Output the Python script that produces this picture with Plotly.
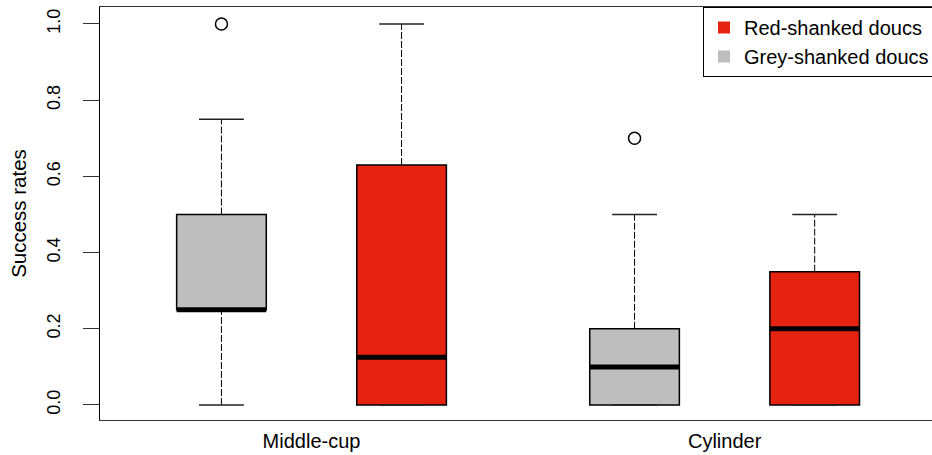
import plotly.graph_objects as go

# ---- data ----
categories = ["Middle-cup", "Cylinder"]
series_names = ["Grey-shanked doucs", "Red-shanked doucs"]

grey_low = [0.0, 0.0]
grey_q1 = [0.25, 0.0]
grey_median = [0.25, 0.10]
grey_q3 = [0.50, 0.20]
grey_high = [0.75, 0.50]
grey_outliers = [[1.0], [0.70]]

red_low = [0.0, 0.0]
red_q1 = [0.0, 0.0]
red_median = [0.125, 0.20]
red_q3 = [0.63, 0.35]
red_high = [1.0, 0.50]
red_outliers = [[], []]

yticks = [0.0, 0.2, 0.4, 0.6, 0.8, 1.0]
ytick_labels = ["0.0", "0.2", "0.4", "0.6", "0.8", "1.0"]

# ---- styles ----
GREY = "#BEBEBE"
RED = "#E62310"
FONT = "Liberation Sans, Arial, Helvetica, sans-serif"
BOX_W = 0.217
OFFSET = 0.218
CAP_W = BOX_W / 2

fig = go.Figure()

series = [
    (series_names[0], GREY, -OFFSET, grey_low, grey_q1, grey_median, grey_q3, grey_high, grey_outliers),
    (series_names[1], RED, OFFSET, red_low, red_q1, red_median, red_q3, red_high, red_outliers),
]

for name, color, off, lo, q1, med, q3, hi, outs in series:
    pos = [i + off for i in range(len(categories))]
    fig.add_trace(go.Box(
        x=pos, q1=q1, median=med, q3=q3, lowerfence=q1, upperfence=q3,
        width=BOX_W, whiskerwidth=0, fillcolor=color,
        line=dict(color="black", width=1.5), boxpoints=False,
        showlegend=False, hoverinfo="skip",
    ))
    for i, p in enumerate(pos):
        # dashed whiskers
        if hi[i] > q3[i]:
            fig.add_trace(go.Scatter(x=[p, p], y=[q3[i], hi[i]], mode="lines",
                                     line=dict(color="black", width=1, dash="7px,2px"),
                                     showlegend=False, hoverinfo="skip"))
        if lo[i] < q1[i]:
            fig.add_trace(go.Scatter(x=[p, p], y=[lo[i], q1[i]], mode="lines",
                                     line=dict(color="black", width=1, dash="7px,2px"),
                                     showlegend=False, hoverinfo="skip"))
        # caps
        for v in (lo[i], hi[i]):
            fig.add_trace(go.Scatter(x=[p - CAP_W / 2, p + CAP_W / 2], y=[v, v], mode="lines",
                                     line=dict(color="#222", width=1.5),
                                     showlegend=False, hoverinfo="skip"))
        # thick median
        fig.add_trace(go.Scatter(x=[p - BOX_W / 2, p + BOX_W / 2], y=[med[i], med[i]], mode="lines",
                                 line=dict(color="black", width=5),
                                 showlegend=False, hoverinfo="skip"))
        # outliers
        if outs[i]:
            fig.add_trace(go.Scatter(x=[p] * len(outs[i]), y=outs[i], mode="markers",
                                     marker=dict(symbol="circle-open", size=12,
                                                 line=dict(color="black", width=1.5), color="black"),
                                     showlegend=False, hoverinfo="skip"))

# legend entries (red first, then grey)
for name, color in [(series_names[1], RED), (series_names[0], GREY)]:
    fig.add_trace(go.Scatter(x=[None], y=[None], mode="markers", name=name,
                             marker=dict(symbol="square", size=10, color=color)))

fig.update_layout(
    width=932, height=455,
    margin=dict(l=100, r=0, t=7, b=35, autoexpand=False),
    paper_bgcolor="white", plot_bgcolor="white",
    font=dict(family=FONT, color="black", size=20),
    legend=dict(x=(703 - 100) / 832, xanchor="left", y=1, yanchor="top",
                bordercolor="black", borderwidth=1, bgcolor="white",
                font=dict(size=20), traceorder="normal", itemsizing="constant"),
    showlegend=True,
)

fig.update_xaxes(
    range=[-0.512, 1.502], tickvals=list(range(len(categories))), ticktext=categories,
    showline=True, mirror=True, linecolor="#333", linewidth=1,
    showgrid=False, zeroline=False, ticks="", tickfont=dict(size=20),
    ticklabelstandoff=3,
)
fig.update_yaxes(
    range=[-0.0394, 1.0446], tickvals=yticks, ticktext=ytick_labels,
    showline=True, linecolor="black", linewidth=1,
    showgrid=False, zeroline=False, ticks="outside", ticklen=16, tickcolor="#333",
    tickangle=-90, tickfont=dict(size=18), ticklabelstandoff=16,
    title=dict(text="Success rates", font=dict(size=20.5), standoff=11),
)

fig.write_html(
    "out.html",
    config={"displayModeBar": False, "staticPlot": True},
    post_script="document.body.style.margin='0';document.body.style.padding='0';document.body.style.overflow='hidden';",
)
